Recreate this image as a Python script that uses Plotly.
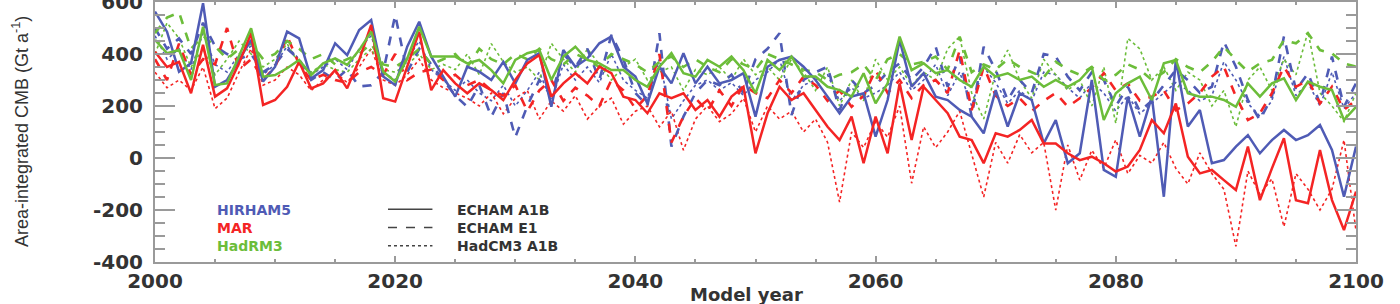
import plotly.graph_objects as go

years = list(range(2000, 2101))

hirham_a1b = [563, 486, 332, 364, 595, 274, 300, 377, 454, 294,
              351, 486, 460, 306, 338, 441, 396, 492, 531, 313,
              281, 428, 524, 390, 313, 236, 351, 332, 300, 370,
              287, 377, 403, 197, 415, 351, 383, 441, 467, 351,
              313, 210, 351, 287, 403, 287, 351, 287, 300, 326,
              159, 351, 377, 390, 351, 300, 236, 172, 236, 249,
              82, 223, 454, 274, 326, 236, 223, 185, 159, 95,
              261, 121, 249, 223, 56, 146, -20, 18, 300, -46,
              -72, 236, 82, 236, -149, 377, 121, 185, -20, -8,
              44, 88, 18, 69, 108, 69, 88, 127, 31, -149, 44]

mar_a1b = [409, 350, 370, 249, 435, 236, 268, 364, 480, 204,
           223, 274, 370, 268, 287, 338, 268, 377, 512, 230,
           217, 350, 486, 261, 338, 287, 249, 287, 261, 223,
           300, 364, 396, 236, 287, 326, 287, 351, 326, 236,
           223, 172, 249, 230, 249, 185, 223, 159, 236, 274,
           18, 172, 274, 223, 249, 185, 120, 69, 159, -20,
           159, 18, 287, 69, 274, 223, 172, 82, 69, -20,
           95, 82, 108, 146, 56, 56, 18, -8, 5, -20,
           -52, -33, 31, 146, 95, 210, 5, -59, -46, -85,
           -123, 44, -162, -40, 76, -162, -174, 31, -162, -277, -129]

hadrm3_a1b = [454, 403, 415, 300, 505, 281, 287, 396, 499, 313,
              319, 345, 377, 319, 364, 383, 358, 415, 486, 332,
              294, 383, 505, 390, 390, 390, 364, 377, 338, 287,
              377, 403, 415, 300, 390, 428, 377, 364, 338, 338,
              300, 274, 351, 403, 326, 313, 377, 351, 390, 338,
              249, 377, 338, 390, 313, 313, 274, 261, 236, 326,
              210, 287, 467, 338, 364, 326, 338, 300, 274, 351,
              313, 326, 300, 313, 274, 300, 274, 300, 351, 146,
              249, 287, 313, 223, 364, 377, 249, 236, 236, 223,
              197, 287, 236, 287, 306, 223, 294, 274, 261, 146, 197]

hirham_e1 = [500, 420, 460, 400, 520, 430, 400, 380, 400, 330,
             360, 420, 380, 300, 330, 300, 340, 275, 280, 330,
             550, 330, 420, 360, 300, 240, 197, 280, 159, 250,
             80, 200, 300, 240, 400, 350, 420, 300, 474, 380,
             250, 200, 480, 44, 159, 250, 300, 280, 320, 250,
             380, 420, 480, 165, 300, 330, 351, 184, 300, 250,
             280, 330, 364, 300, 350, 428, 274, 390, 159, 428,
             338, 223, 300, 250, 400, 390, 313, 260, 330, 300,
             200, 274, 180, 220, 280, 338, 300, 250, 274, 447,
             351, 223, 146, 236, 467, 261, 326, 210, 390, 197, 287]

mar_e1 = [380, 300, 440, 320, 380, 360, 500, 340, 380, 300,
          350, 470, 360, 300, 320, 300, 290, 330, 350, 320,
          400, 300, 330, 340, 300, 320, 280, 300, 260, 240,
          280, 180, 260, 300, 220, 270, 240, 200, 300, 260,
          190, 240, 400, 60, 160, 230, 180, 260, 200, 280,
          250, 230, 300, 250, 313, 280, 220, 260, 197, 240,
          338, 250, 300, 230, 280, 300, 250, 415, 184, 351,
          240, 200, 230, 180, 220, 250, 197, 230, 270, 326,
          260, 287, 220, 236, 260, 184, 210, 250, 313, 351,
          236, 146, 172, 249, 351, 274, 300, 210, 274, 185, 223]

hadrm3_e1 = [480, 540, 560, 420, 470, 430, 380, 420, 440, 380,
             400, 450, 420, 380, 400, 360, 380, 400, 440, 360,
             350, 380, 420, 360, 380, 400, 350, 420, 380, 360,
             400, 380, 420, 380, 360, 400, 380, 350, 400, 380,
             360, 330, 370, 390, 350, 380, 350, 330, 380, 360,
             340, 400, 380, 360, 340, 330, 300, 320, 330, 360,
             300, 380, 400, 360, 370, 390, 340, 467, 330, 360,
             340, 380, 350, 330, 310, 370, 340, 320, 350, 300,
             320, 360, 340, 300, 330, 380, 350, 330, 370, 428,
             377, 332, 364, 377, 454, 441, 480, 415, 402, 364, 351]

hirham_hadcm3 = [470, 380, 420, 340, 480, 360, 330, 400, 430, 320,
                 360, 430, 380, 320, 350, 380, 340, 420, 470, 330,
                 300, 380, 450, 340, 300, 260, 300, 250, 220, 280,
                 200, 260, 330, 220, 360, 300, 350, 290, 400, 300,
                 260, 230, 380, 150, 220, 280, 300, 260, 290, 240,
                 300, 330, 380, 220, 280, 300, 320, 220, 270, 230,
                 250, 280, 330, 260, 300, 360, 240, 330, 200, 350,
                 290, 210, 260, 220, 330, 320, 270, 230, 290, 250,
                 180, 240, 170, 210, 250, 290, 260, 220, 240, 370,
                 300, 210, 160, 220, 390, 240, 290, 200, 330, 190, 250]

mar_hadcm3 = [330, 270, 300, 260, 350, 190, 230, 330, 420, 280,
              300, 350, 320, 260, 300, 330, 290, 350, 420, 300,
              280, 320, 380, 300, 270, 250, 230, 200, 250, 170,
              230, 260, 150, 220, 180, 240, 150, 200, 230, 130,
              180, 200, 120, 180, 30, 150, 200, 140, 170, 230,
              100, 200, 150, 180, 100, 150, 60, -170, 100, 40,
              140, 80, 200, -97, 120, 40, 100, 180, 10, -150,
              60, -20, 90, 20, 60, -200, 50, -85, 30, -40,
              70, -60, 10, -20, 60, -40, -100, 20, -60, -120,
              -340, -50, -140, -80, -264, -60, -120, -200, -120, 69, -280]

hadrm3_hadcm3 = [400, 520, 460, 350, 420, 320, 380, 450, 400, 350,
                 380, 440, 360, 330, 360, 340, 330, 380, 420, 340,
                 330, 360, 400, 340, 360, 340, 400, 320, 440, 370,
                 330, 350, 300, 441, 380, 330, 420, 360, 300, 350,
                 380, 300, 330, 350, 260, 340, 320, 350, 300, 380,
                 320, 350, 300, 380, 330, 260, 350, 200, 300, 220,
                 380, 300, 350, 280, 330, 300, 420, 467, 250, 150,
                 330, 415, 300, 230, 380, 320, 260, 300, 200, 350,
                 133, 460, 420, 300, 350, 260, 330, 300, 200, 260,
                 120, 300, 350, 260, 380, 320, 486, 250, 200, 140, 250]

models = ["HIRHAM5", "MAR", "HadRM3"]
model_colors = {"HIRHAM5": "#4f5bb5", "MAR": "#f42424", "HadRM3": "#6cbd3a"}
forcings = ["ECHAM A1B", "ECHAM E1", "HadCM3 A1B"]
forcing_dash = {"ECHAM A1B": "solid", "ECHAM E1": "dash", "HadCM3 A1B": "dot"}
forcing_width = {"ECHAM A1B": 2.5, "ECHAM E1": 2.6, "HadCM3 A1B": 1.6}

series = {
    ("HIRHAM5", "ECHAM A1B"): hirham_a1b,
    ("MAR", "ECHAM A1B"): mar_a1b,
    ("HadRM3", "ECHAM A1B"): hadrm3_a1b,
    ("HIRHAM5", "ECHAM E1"): hirham_e1,
    ("MAR", "ECHAM E1"): mar_e1,
    ("HadRM3", "ECHAM E1"): hadrm3_e1,
    ("HIRHAM5", "HadCM3 A1B"): hirham_hadcm3,
    ("MAR", "HadCM3 A1B"): mar_hadcm3,
    ("HadRM3", "HadCM3 A1B"): hadrm3_hadcm3,
}

y_tickvals = [-400, -200, 0, 200, 400, 600]
y_ticktext = ["-400", "-200", "0", "200", "400", "600"]
x_tickvals = [2000, 2020, 2040, 2060, 2080, 2100]

fig = go.Figure()
for forcing in ["HadCM3 A1B", "ECHAM E1", "ECHAM A1B"]:
    for model in models:
        fig.add_trace(go.Scatter(
            x=years, y=series[(model, forcing)], mode="lines",
            line=dict(color=model_colors[model], dash=forcing_dash[forcing],
                      width=forcing_width[forcing]),
            showlegend=False, hoverinfo="skip"))

font_main = "DejaVu Sans, Arial, sans-serif"
axis_common = dict(showgrid=False, zeroline=False, showline=True, linecolor="#9a9a9a",
                   linewidth=2, mirror="ticks", ticks="inside", tickcolor="#9a9a9a",
                   automargin=False, ticklabeloverflow="allow",
                   tickfont=dict(family=font_main, size=20, color="#333333", weight="bold"))

fig.update_xaxes(range=[2000, 2100], tickvals=x_tickvals, ticklen=6, tickwidth=1.5,
                 minor=dict(dtick=5, tick0=2000, ticks="inside", ticklen=3, tickcolor="#9a9a9a"),
                 **axis_common)
fig.update_yaxes(range=[-400, 600], tickvals=y_tickvals, ticktext=y_ticktext, ticklen=20,
                 tickwidth=1.5,
                 minor=dict(dtick=50, tick0=0, ticks="inside", ticklen=10, tickcolor="#9a9a9a"),
                 ticklabelstandoff=6, **axis_common)

annotations = [
    dict(text="Model year", xref="paper", yref="paper", x=0.5, y=-0.125, xshift=-9,
         xanchor="center", yanchor="middle", showarrow=False,
         font=dict(family=font_main, size=18, color="#333333", weight="bold")),
    dict(text="Area-integrated CMB (Gt a<sup>-1</sup>)", xref="paper", yref="paper",
         x=0, y=0.5, xshift=-135, textangle=-90, xanchor="center", yanchor="middle",
         showarrow=False, font=dict(family="Liberation Sans Narrow, Arial, sans-serif", size=18, color="#333333")),
]

legend_size = 14
line_gap = 1.3 * legend_size / 260.0
mid_row = (262 - 227.5) / 260.0
legend_rows = [mid_row + line_gap, mid_row, mid_row - line_gap]

model_text = "<br>".join(
    f"<span style='color:{model_colors[m]}'>{m}</span>" for m in models)
annotations.append(dict(text=model_text, xref="paper", yref="paper", x=0.05, y=mid_row,
                        xanchor="left", yanchor="middle", align="left", showarrow=False,
                        font=dict(family=font_main, size=legend_size, weight="bold")))
annotations.append(dict(text="<br>".join(forcings), xref="paper", yref="paper", x=0.25,
                        y=mid_row, xanchor="left", yanchor="middle", align="left",
                        showarrow=False,
                        font=dict(family=font_main, size=legend_size, color="#333333",
                                  weight="bold")))
shapes = []
for forcing, yy in zip(forcings, legend_rows):
    shapes.append(dict(type="line", xref="paper", yref="paper", x0=0.194, x1=0.231,
                       y0=yy, y1=yy, line=dict(color="#444444", width=1.5,
                                               dash=forcing_dash[forcing])))

fig.update_layout(width=1400, height=304, margin=dict(l=155, r=44, t=2, b=42),
                  plot_bgcolor="white", paper_bgcolor="white",
                  annotations=annotations, shapes=shapes, showlegend=False)

fig.write_html("out.html", config={"displayModeBar": False},
               post_script="document.body.style.margin='0';document.body.style.padding='0';")
